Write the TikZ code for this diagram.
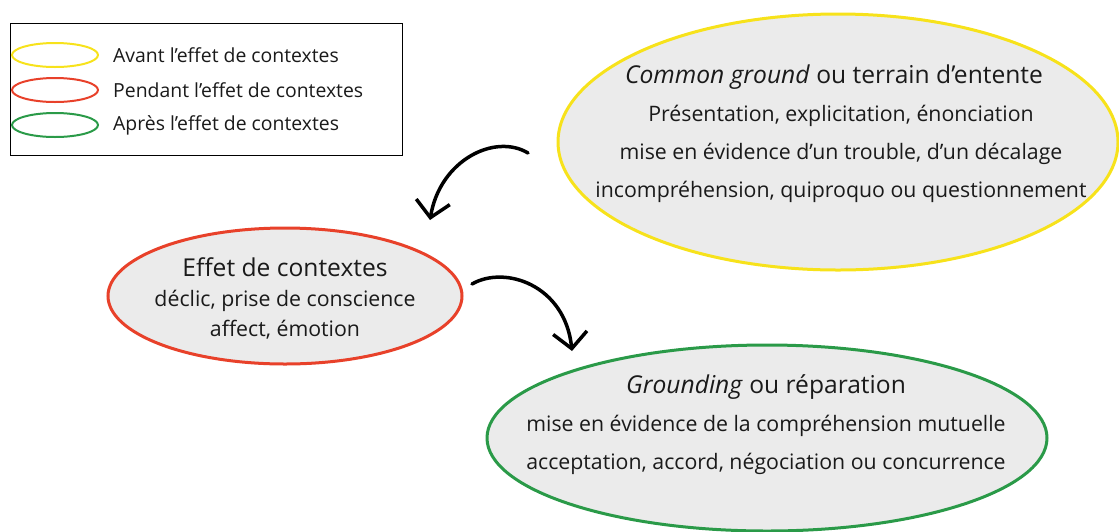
\documentclass[tikz,border=0pt]{standalone}
\usepackage{fontspec}
\setmainfont{Open Sans}
\usetikzlibrary{shapes.geometric,arrows.meta}
\definecolor{fillg}{HTML}{EBEBEB}
\definecolor{cyel}{HTML}{F7E21B}
\definecolor{cred}{HTML}{E8412A}
\definecolor{cgrn}{HTML}{2A9A48}
\definecolor{ctext}{HTML}{1A1A1A}
\tikzset{
  bubble/.style={ellipse,draw,line width=3pt,fill=fillg,inner sep=0pt,align=center,text=ctext},
  legell/.style={ellipse,draw,line width=2pt,minimum width=86pt,minimum height=24pt,inner sep=0pt},
  legtxt/.style={anchor=west,inner sep=0pt,text=ctext,font=\fontsize{19.4}{22}\selectfont},
  arr/.style={line width=3.5pt,line cap=round,-{Straight Barb[length=16pt,width=34pt,line width=3.5pt]}},
}
\begin{document}
\begin{tikzpicture}[x=1pt,y=-1pt]
\useasboundingbox (0,0) rectangle (1119,531);
% legend
\node[draw,line width=1pt,minimum width=392pt,minimum height=132pt,anchor=north west,inner sep=0pt] (legend) at (10,23) {};
\node[legell,draw=cyel] (l1) at (55,55) {};
\node[legell,draw=cred] (l2) at (55,90) {};
\node[legell,draw=cgrn] (l3) at (55,125) {};
\node[legtxt] (t1) at (113,55) {Avant l’effet de contextes};
\node[legtxt] (t2) at (113,90) {Pendant l’effet de contextes};
\node[legtxt] (t3) at (113,125) {Après l’effet de contextes};
% bubbles
\node[bubble,draw=cyel,minimum width=560pt,minimum height=256pt] (yel) at (838,142) {};
\node[text=ctext,align=center,font=\fontsize{21.3}{38}\selectfont] (yeltxt) at (841,134) {{\fontsize{24.6}{38}\selectfont\textit{Common ground} ou terrain d’entente\hspace*{14pt}}\\Présentation, explicitation, énonciation\\mise en évidence d’un trouble, d’un décalage\\incompréhension, quiproquo ou questionnement};
\node[bubble,draw=cred,minimum width=354pt,minimum height=136pt] (red) at (285,296) {};
\node[text=ctext,align=center,font=\fontsize{21.3}{30}\selectfont] (redtxt) at (285,298) {{\fontsize{24.6}{30}\selectfont Effet de contextes}\\déclic, prise de conscience\\affect, émotion};
\node[bubble,draw=cgrn,minimum width=560pt,minimum height=186pt] (grn) at (767,438) {};
\node[text=ctext,align=center,font=\fontsize{21.3}{38}\selectfont] (grntxt) at (766,425) {{\fontsize{24.6}{38}\selectfont\textit{Grounding} ou réparation}\\mise en évidence de la compréhension mutuelle\\acceptation, accord, négociation ou concurrence};
% arrows
\coordinate (s1) at (528,153);
\coordinate (e1) at (430,220);
\coordinate (s2) at (472,284);
\coordinate (e2) at (572,351);
\draw[arr] (s1) .. controls (495,133) and (440,160) .. (e1);
\draw[arr] (s2) .. controls (505,265) and (565,285) .. (e2);
\end{tikzpicture}
\end{document}
